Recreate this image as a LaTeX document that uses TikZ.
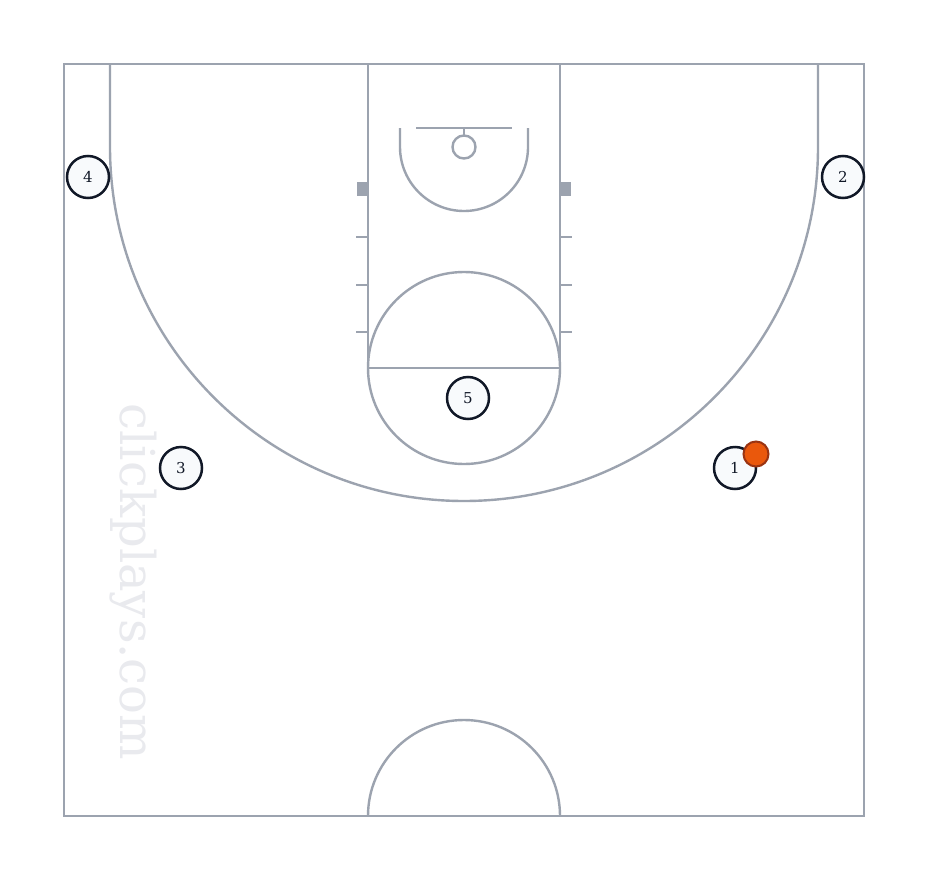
\documentclass[tikz,border=0pt]{standalone}
\usepackage{fontspec}
\setmainfont{DejaVu Serif}
\definecolor{courtline}{HTML}{9CA3AF}
\definecolor{playerline}{HTML}{111827}
\definecolor{playerfill}{HTML}{F8FAFC}
\definecolor{ballfill}{HTML}{EA580C}
\definecolor{ballline}{HTML}{9A3412}
\definecolor{wmark}{HTML}{E9EAEE}
\begin{document}
\begin{tikzpicture}[x=1pt,y=-1pt,
  court/.style={draw=courtline,line width=2.4pt},
  player/.style={circle,draw=playerline,fill=playerfill,line width=2.5pt,minimum size=42pt,inner sep=0pt,text=playerline,font=\fontsize{15}{15}\selectfont},
  ball/.style={circle,draw=ballline,fill=ballfill,line width=2pt,minimum size=25pt,inner sep=0pt}]
\useasboundingbox (0,0) rectangle (928,880);
\fill[white] (0,0) rectangle (928,880);
% watermark
\node[rotate=-90,text=wmark,font=\fontsize{48}{48}\selectfont] (wm) at (133,582) {clickplays.com};
% court outline
\draw[court] (64,64) rectangle (864,816);
% lane
\draw[court] (368,64) -- (368,368) -- (560,368) -- (560,64);
% free throw circle
\draw[court] (464,368) circle[radius=96];
% backboard and rim
\draw[court] (416,128) -- (512,128);
\draw[court] (464,128) -- (464,135);
\draw[court] (464,147) circle[radius=11.5];
% restricted arc
\draw[court] (400,128) -- (400,147) arc[start angle=180,end angle=0,radius=64] -- (528,128);
% blocks
\fill[courtline] (357,182) rectangle (368,196);
\fill[courtline] (560,182) rectangle (571,196);
% hash marks
\foreach \yy in {237,285,332}{
  \draw[court] (356,\yy) -- (368,\yy);
  \draw[court] (560,\yy) -- (572,\yy);
}
% three point line
\draw[court] (110,64) -- (110,147) arc[start angle=180,end angle=0,radius=354] -- (818,64);
% half court circle
\draw[court] (368,816) arc[start angle=180,end angle=360,radius=96];
% players
\node[player] (p4) at (88,177) {4};
\node[player] (p2) at (843,177) {2};
\node[player] (p3) at (181,468) {3};
\node[player] (p5) at (468,398) {5};
\node[player] (p1) at (735,468) {1};
\node[ball] (b) at (756,454) {};
\end{tikzpicture}
\end{document}
